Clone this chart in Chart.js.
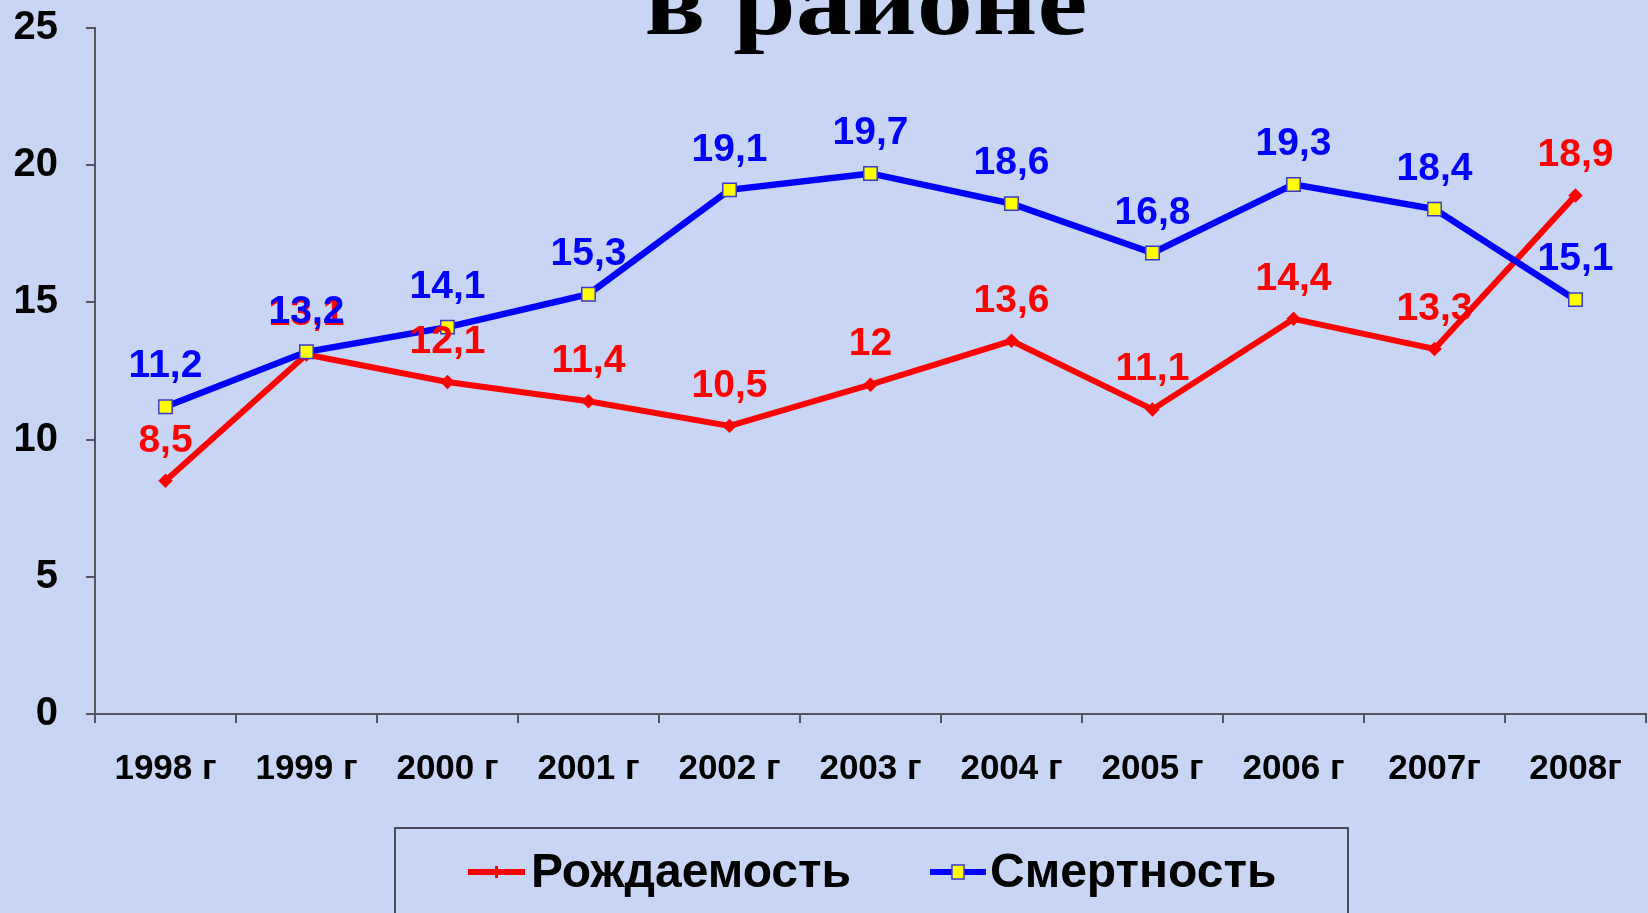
<!DOCTYPE html>
<html>
<head>
<meta charset="utf-8">
<script src="https://cdn.jsdelivr.net/npm/chart.js@4.4.1/dist/chart.umd.min.js"></script>
<style>
  html, body { margin: 0; padding: 0; }
  body { width: 1648px; height: 913px; overflow: hidden; background: #c9d5f4; }
  #wrap { position: relative; width: 1648px; height: 913px; overflow: hidden; }
  #chart { position: absolute; left: 0; top: 0; }
</style>
</head>
<body>
<div id="wrap"><canvas id="chart" width="1657" height="913"></canvas></div>
<script>
"use strict";

const years = ["1998 г", "1999 г", "2000 г", "2001 г", "2002 г", "2003 г", "2004 г", "2005 г", "2006 г", "2007г", "2008г"];
const birthRate = [8.5, 13.1, 12.1, 11.4, 10.5, 12, 13.6, 11.1, 14.4, 13.3, 18.9];
const deathRate = [11.2, 13.2, 14.1, 15.3, 19.1, 19.7, 18.6, 16.8, 19.3, 18.4, 15.1];
const yTicks = [0, 5, 10, 15, 20, 25];
const seriesNames = ["Рождаемость", "Смертность"];
const titleText = "в районе";

const FONT = "'Liberation Sans', Arial, sans-serif";

// value labels above the points
const valueLabels = {
  id: "valueLabels",
  afterDatasetsDraw(chart) {
    const ctx = chart.ctx;
    ctx.save();
    ctx.font = "bold 39px " + FONT;
    ctx.textAlign = "center";
    ctx.textBaseline = "middle";
    chart.data.datasets.forEach((ds, i) => {
      const meta = chart.getDatasetMeta(i);
      ctx.fillStyle = ds.borderColor;
      meta.data.forEach((pt, j) => {
        const txt = String(ds.data[j]).replace(".", ",");
        ctx.fillText(txt, pt.x, pt.y - 40);
      });
    });
    ctx.restore();
  }
};

// title fragment and legend box
const extras = {
  id: "extras",
  afterDraw(chart) {
    const ctx = chart.ctx;
    ctx.save();
    ctx.fillStyle = "#000";
    ctx.font = "bold 96px 'Liberation Serif', 'Times New Roman', serif";
    ctx.textAlign = "center";
    ctx.textBaseline = "alphabetic";
    ctx.translate(866, 34);
    ctx.scale(1.17, 1);
    ctx.fillText(titleText, 0, 0);
    ctx.restore();

    ctx.save();
    // legend
    ctx.strokeStyle = "#4a4a55";
    ctx.lineWidth = 2;
    ctx.strokeRect(395, 828, 953, 100);

    const ds = chart.data.datasets;
    const y = 872;
    const items = [
      { x0: 468, x1: 525, tx: 531 },
      { x0: 930, x1: 986, tx: 990 }
    ];
    items.forEach((it, i) => {
      ctx.strokeStyle = ds[i].borderColor;
      ctx.lineWidth = 6;
      ctx.beginPath();
      ctx.moveTo(it.x0, y);
      ctx.lineTo(it.x1, y);
      ctx.stroke();
      const cx = (it.x0 + it.x1) / 2;
      if (i === 1) {
        ctx.fillStyle = ds[i].pointBackgroundColor;
        ctx.fillRect(cx - 6, y - 7, 12, 14);
        ctx.lineWidth = 1.5;
        ctx.strokeStyle = ds[i].pointBorderColor;
        ctx.strokeRect(cx - 6, y - 7, 12, 14);
      } else {
        ctx.fillStyle = ds[i].borderColor;
        ctx.fillRect(cx - 1.5, y - 6, 3, 12);
      }
      ctx.fillStyle = "#000";
      ctx.font = "bold 48px " + FONT;
      ctx.textAlign = "left";
      ctx.textBaseline = "middle";
      ctx.fillText(seriesNames[i], it.tx, y + 2);
    });
    ctx.restore();
  }
};

new Chart(document.getElementById("chart"), {
  type: "line",
  data: {
    labels: years,
    datasets: [
      {
        label: seriesNames[0],
        data: birthRate,
        borderColor: "#ff0000",
        backgroundColor: "#ff0000",
        borderWidth: 6,
        pointStyle: "rectRot",
        pointRadius: 3,
        pointBackgroundColor: "#ff0000",
        pointBorderColor: "#ff0000",
        tension: 0,
        order: 1
      },
      {
        label: seriesNames[1],
        data: deathRate,
        borderColor: "#0000ff",
        backgroundColor: "#0000ff",
        borderWidth: 6.5,
        pointStyle: "rect",
        pointRadius: 9.5,
        pointBackgroundColor: "#ffff00",
        pointBorderColor: "#3a3ad0",
        pointBorderWidth: 1.5,
        tension: 0,
        order: 0
      }
    ]
  },
  options: {
    responsive: false,
    animation: false,
    layout: { padding: { top: 28, right: 0, left: 0, bottom: 0 } },
    plugins: {
      legend: { display: false },
      tooltip: { enabled: false }
    },
    scales: {
      x: {
        offset: true,
        grid: {
          offset: true,
          drawOnChartArea: false,
          drawTicks: true,
          tickLength: 9,
          color: "#555560",
          lineWidth: 2
        },
        border: { display: true, color: "#555560", width: 2 },
        ticks: {
          color: "#000",
          font: { family: FONT, size: 35, weight: "bold" },
          padding: 25,
          maxRotation: 0,
          autoSkip: false
        },
        afterFit(scale) {
          scale.height = 199;
          scale.paddingLeft = 0;
          scale.paddingRight = 0;
        }
      },
      y: {
        min: 0,
        max: 25,
        afterBuildTicks(scale) { scale.ticks = yTicks.map(v => ({ value: v })); },
        grid: {
          drawOnChartArea: false,
          drawTicks: true,
          tickLength: 9,
          color: "#555560",
          lineWidth: 2
        },
        border: { display: true, color: "#555560", width: 2 },
        ticks: {
          color: "#000",
          font: { family: FONT, size: 40, weight: "bold" },
          padding: 28
        },
        afterFit(scale) {
          scale.width = 95;
          scale.paddingTop = 0;
          scale.paddingBottom = 0;
        }
      }
    }
  },
  plugins: [valueLabels, extras]
});
</script>
</body>
</html>
